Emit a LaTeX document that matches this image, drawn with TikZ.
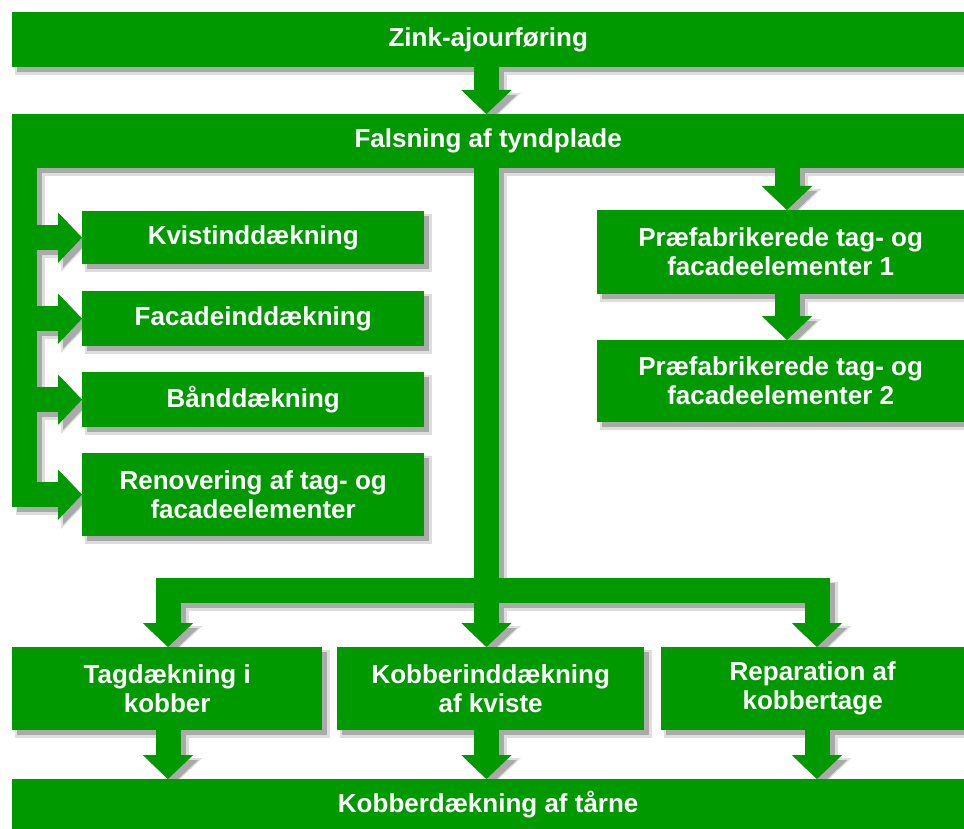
\documentclass[tikz,border=0pt]{standalone}
\usepackage{fontspec}
\setmainfont{Liberation Sans}
\usetikzlibrary{arrows.meta,calc}
\definecolor{grn}{RGB}{0,153,0}
\definecolor{shad}{RGB}{170,170,170}
\definecolor{shadlt}{RGB}{222,222,222}
\pgfdeclarelayer{bg}
\pgfdeclarelayer{bgsoft}
\pgfsetlayers{bgsoft,bg,main}
\newcommand\flow[1]{%
  \begin{pgfonlayer}{bgsoft}\draw[sarrlt] #1;\end{pgfonlayer}
  \begin{pgfonlayer}{bg}\draw[sarr] #1;\end{pgfonlayer}
  \draw[arr] #1;}
\begin{document}
\begin{tikzpicture}[x=1pt,y=-1pt,
  box/.style={fill=grn, text=white, font=\fontsize{26}{29}\selectfont\bfseries,
    align=center, inner sep=0pt, anchor=north west},
  arr/.style={draw=grn, line width=25pt, -{Triangle[width=49pt,length=24pt]}},
  sarr/.style={draw=shad, line width=25pt, -{Triangle[width=49pt,length=24pt]},
    transform canvas={shift={(5pt,-5pt)}}},
  sarrlt/.style={draw=shadlt, line width=29pt, -{Triangle[width=55pt,length=27pt]},
    transform canvas={shift={(6pt,-6pt)}}},
]
\useasboundingbox (0,0) rectangle (964,829);
\begin{pgfonlayer}{bgsoft}
  \fill[white] (0,0) rectangle (964,829);
\end{pgfonlayer}

% boxes
\node[box, minimum width=952pt, minimum height=55pt] (zink) at (12,12) {Zink-ajourføring};
\node[box, minimum width=952pt, minimum height=54pt] (fals) at (12,114) {Falsning af tyndplade};
\node[box, minimum width=342pt, minimum height=53pt] (kvist) at (82,211) {Kvistinddækning};
\node[box, minimum width=342pt, minimum height=55pt] (facade) at (82,291) {Facadeinddækning};
\node[box, minimum width=342pt, minimum height=55pt] (band) at (82,372) {Bånddækning};
\node[box, minimum width=342pt, minimum height=83pt] (renov) at (82,453) {Renovering af tag- og\\facadeelementer};
\node[box, minimum width=367pt, minimum height=84pt] (pre1) at (597,210) {Præfabrikerede tag- og\\facadeelementer 1};
\node[box, minimum width=367pt, minimum height=82pt] (pre2) at (597,340) {Præfabrikerede tag- og\\facadeelementer 2};
\node[box, minimum width=310pt, minimum height=83pt] (t1) at (12,647) {Tagdækning i\\kobber};
\node[box, minimum width=307pt, minimum height=83pt] (t2) at (337,647) {Kobberinddækning\\af kviste};
\node[box, minimum width=303pt, minimum height=83pt] (t3) at (661,647) {Reparation af\\kobbertage};
\node[box, minimum width=952pt, minimum height=50pt] (kob) at (12,779) {Kobberdækning af tårne};

\foreach \n in {zink,fals,kvist,facade,band,renov,pre1,pre2,t1,t2,t3,kob}{
  \begin{pgfonlayer}{bgsoft}
    \fill[shadlt] ([shift={(3,3)}]\n.north west) rectangle ([shift={(8,8)}]\n.south east);
  \end{pgfonlayer}
  \begin{pgfonlayer}{bg}
    \fill[shad] ([shift={(5,5)}]\n.north west) rectangle ([shift={(5,5)}]\n.south east);
  \end{pgfonlayer}
}

% reference coordinates
\coordinate (tx) at (486.5,0);
\coordinate (px) at (787,0);
\coordinate (lx) at (24.5,0);
\coordinate (b1) at (168,590);
\coordinate (b2) at (486.5,590);
\coordinate (b3) at (817,590);

% connectors
\flow{(zink.south -| tx) -- (tx |- fals.north)}
\flow{(fals.south -| lx) |- (renov.west)}
\flow{(kvist.west -| lx) -- (kvist.west)}
\flow{(facade.west -| lx) -- (facade.west)}
\flow{(band.west -| lx) -- (band.west)}
\flow{(fals.south -| px) -- (px |- pre1.north)}
\flow{(pre1.south -| px) -- (px |- pre2.north)}
\flow{(fals.south -| tx) -- (tx |- t2.north)}
\flow{(b2) -| (b1 |- t1.north)}
\flow{(b2) -| (b3 |- t3.north)}
\flow{(t1.south -| b1) -- (b1 |- kob.north)}
\flow{(t2.south -| tx) -- (tx |- kob.north)}
\flow{(t3.south -| b3) -- (b3 |- kob.north)}
\end{tikzpicture}
\end{document}
